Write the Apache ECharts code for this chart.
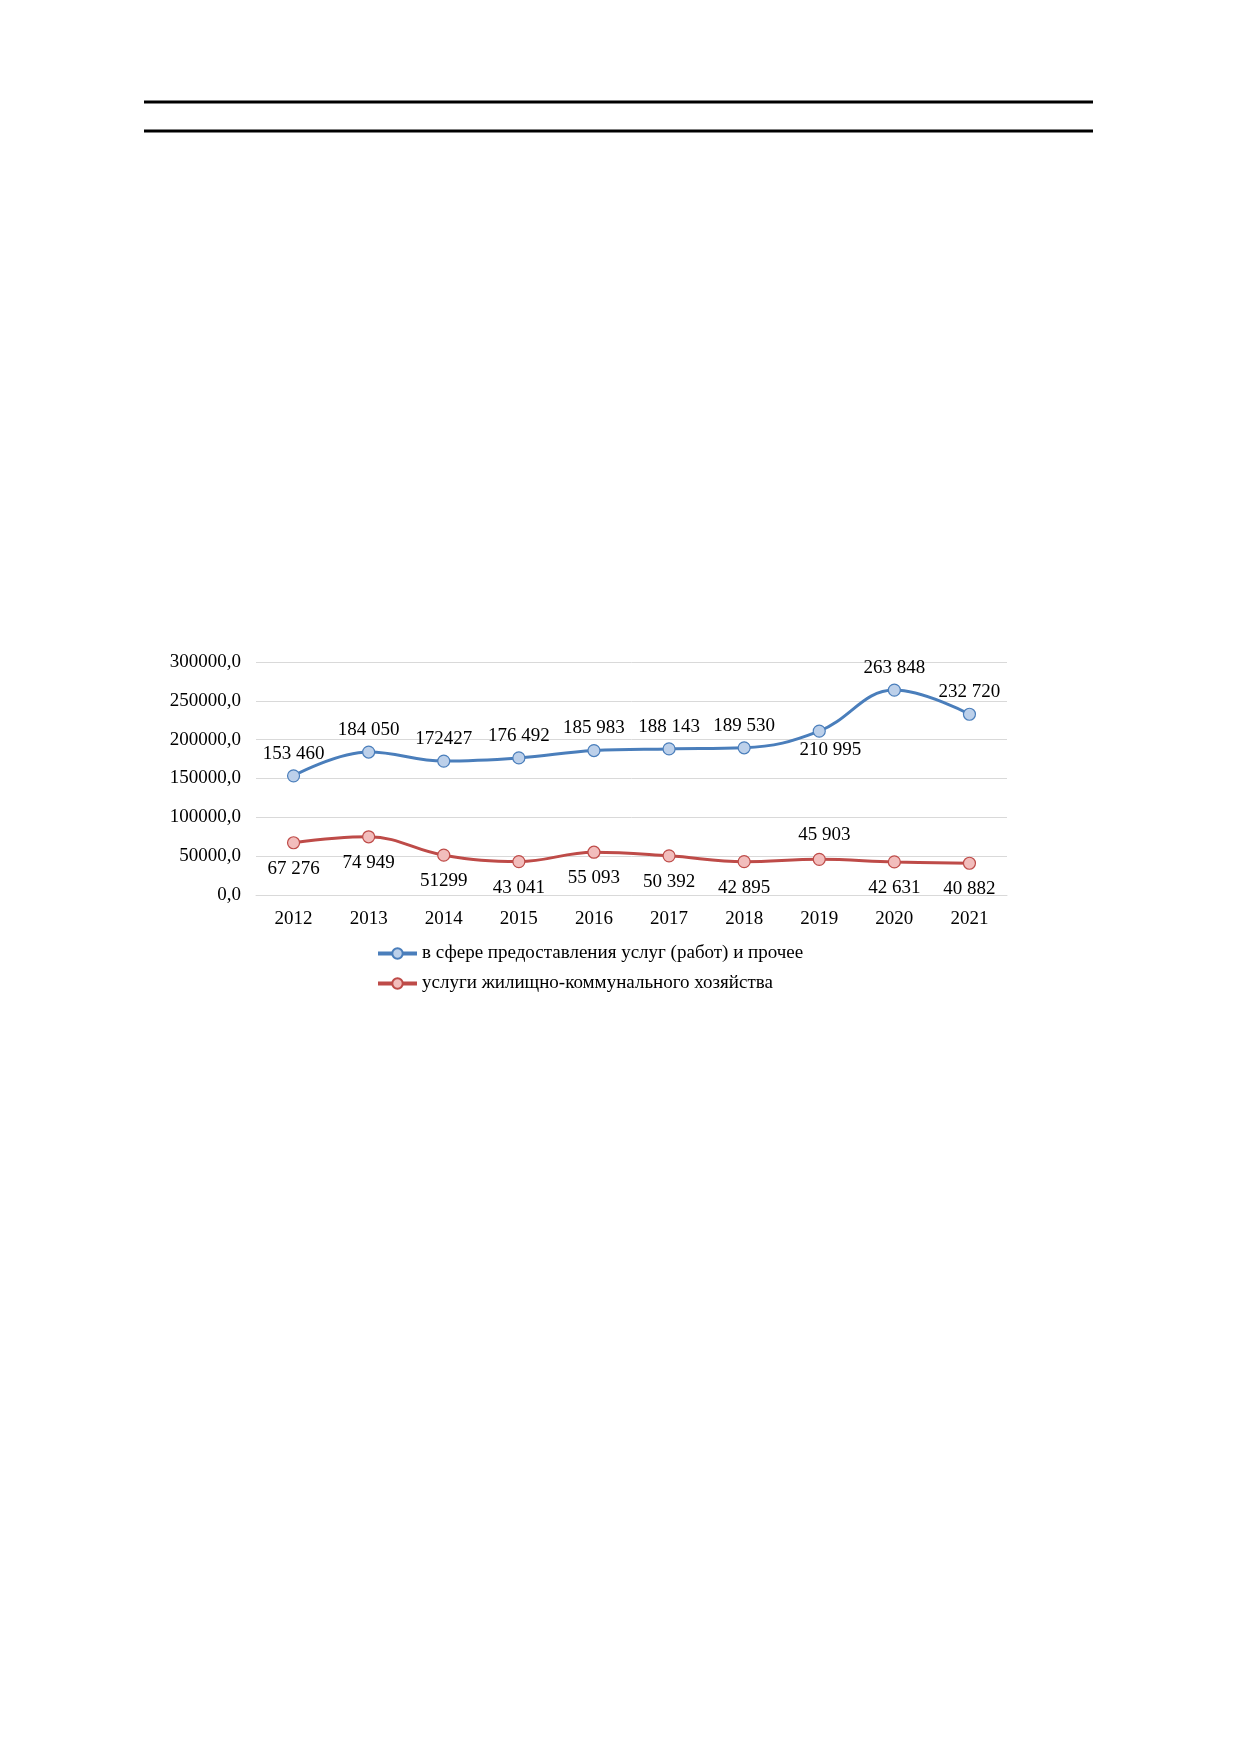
<!DOCTYPE html>
<html>
<head>
<meta charset="utf-8">
<script src="https://cdn.jsdelivr.net/npm/echarts@6/dist/echarts.min.js"></script>
<style>
html,body{margin:0;padding:0;background:#fff;}
#chart{width:1237px;height:1754px;}
</style>
</head>
<body>
<div id="chart"></div>
<script>
const years = ['2012','2013','2014','2015','2016','2017','2018','2019','2020','2021'];
const servicesName = 'в сфере предоставления услуг (работ) и прочее';
const servicesValues = [153460, 184050, 172427, 176492, 185983, 188143, 189530, 210995, 263848, 232720];
const servicesLabels = ['153 460','184 050','172427','176 492','185 983','188 143','189 530','210 995','263 848','232 720'];
const housingName = 'услуги жилищно-коммунального хозяйства';
const housingValues = [67276, 74949, 51299, 43041, 55093, 50392, 42895, 45903, 42631, 40882];
const housingLabels = ['67 276','74 949','51299','43 041','55 093','50 392','42 895','45 903','42 631','40 882'];
const yTicks = {min: 0, max: 300000, interval: 50000};

const FONT = '"Liberation Serif", "Times New Roman", serif';
const BLUE = '#4A7EBB', BLUE_FILL = '#BCD0EA';
const RED = '#BE4B48', RED_FILL = '#F2BDBC';

function buildData(values, labels, defPos, overrides) {
  return values.map((v, i) => {
    const o = overrides[i] || {};
    return {
      value: v,
      label: {
        formatter: labels[i],
        position: o.position || defPos.position,
        distance: o.distance != null ? o.distance : defPos.distance,
        offset: o.offset || [0, 0]
      }
    };
  });
}

const servicesData = buildData(servicesValues, servicesLabels,
  {position: 'top', distance: 6},
  {7: {position: 'bottom', distance: 3, offset: [11, 0]}});
const housingData = buildData(housingValues, housingLabels,
  {position: 'bottom', distance: 10},
  {7: {position: 'top', distance: 8, offset: [5, 0]}});

const chart = echarts.init(document.getElementById('chart'), null, {renderer: 'canvas'});
chart.setOption({
  backgroundColor: '#fff',
  animation: false,
  textStyle: {fontFamily: FONT},
  graphic: [
    {type: 'line', shape: {x1: 144, y1: 102, x2: 1093, y2: 102}, style: {stroke: '#000', lineWidth: 3}},
    {type: 'line', shape: {x1: 144, y1: 131, x2: 1093, y2: 131}, style: {stroke: '#000', lineWidth: 3}}
  ],
  grid: {left: 256, right: 230, top: 662, bottom: 859, containLabel: false},
  legend: {
    orient: 'vertical',
    left: 376,
    top: 944,
    padding: 0,
    itemGap: 11,
    itemWidth: 39,
    itemHeight: 13,
    itemTextGap: 3,
    lineStyle: {width: 4},
    textStyle: {fontFamily: FONT, fontSize: 19, color: '#000'},
    data: [servicesName, housingName]
  },
  xAxis: {
    type: 'category',
    data: years,
    boundaryGap: true,
    axisLine: {show: true, lineStyle: {color: '#D9D9D9', width: 1}},
    axisTick: {show: false},
    axisLabel: {color: '#000', fontFamily: FONT, fontSize: 19, margin: 15}
  },
  yAxis: {
    type: 'value',
    min: yTicks.min,
    max: yTicks.max,
    interval: yTicks.interval,
    axisLine: {show: false},
    axisTick: {show: false},
    splitLine: {lineStyle: {color: '#D9D9D9', width: 1}},
    axisLabel: {color: '#000', fontFamily: FONT, fontSize: 19, margin: 15,
      formatter: v => v + ',0'}
  },
  series: [
    {
      name: servicesName,
      type: 'line',
      smooth: 0.4,
      data: servicesData,
      symbol: 'circle',
      symbolSize: 12,
      lineStyle: {color: BLUE, width: 3},
      itemStyle: {color: BLUE_FILL, borderColor: BLUE, borderWidth: 1.2},
      label: {show: true, color: '#000', fontFamily: FONT, fontSize: 19}
    },
    {
      name: housingName,
      type: 'line',
      smooth: 0.4,
      data: housingData,
      symbol: 'circle',
      symbolSize: 12,
      lineStyle: {color: RED, width: 3},
      itemStyle: {color: RED_FILL, borderColor: RED, borderWidth: 1.2},
      label: {show: true, color: '#000', fontFamily: FONT, fontSize: 19}
    }
  ]
});
</script>
</body>
</html>
